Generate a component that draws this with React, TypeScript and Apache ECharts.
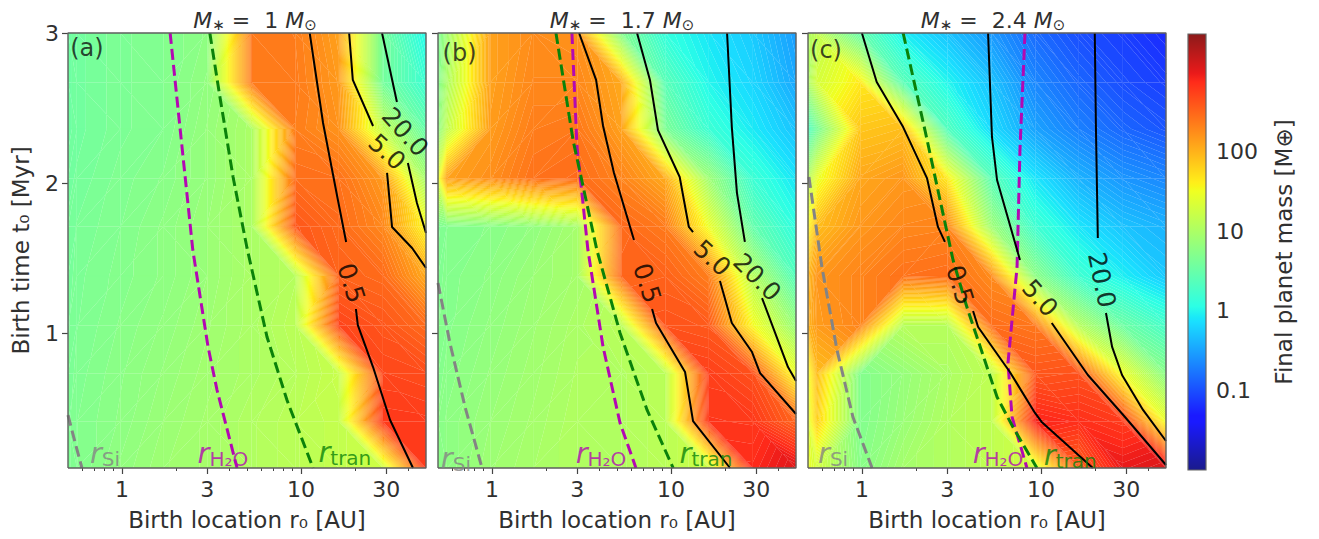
import React, { useEffect, useRef } from "react";
import * as echarts from "echarts";

const FONT = "DejaVu Sans";
const INK = "#303030";
const rNodes = [0.5, 0.56, 0.98, 1.7, 3.0, 5.3, 9.3, 16.3, 28.7, 50];
const tNodes = [3.0, 2.67, 2.36, 2.03, 1.71, 1.38, 1.05, 0.73, 0.41, 0.1];
const xMajor = [1, 3, 10, 30];
const xMinor = [0.6, 0.7, 0.8, 0.9, 2, 4, 5, 6, 7, 8, 9, 20, 40];
const yMajor = [1, 2, 3];
const barTicks = [0.1, 1, 10, 100];
const massMin = 0.01;
const massMax = 3040;

const massA = [
  [3.5, 3.8, 4.5, 5, 6, 240, 220, 130, 4, 1],
  [3.5, 3.8, 4.5, 5, 6.5, 240, 230, 145, 4, 1.5],
  [3.5, 3.8, 4.5, 5, 7, 10, 220, 160, 15, 3],
  [3.8, 4, 4.8, 5.5, 7, 10, 280, 260, 145, 9],
  [4, 4.3, 5, 6, 7.5, 10, 400, 290, 190, 35],
  [4, 4.5, 5.2, 6, 7.5, 10, 12, 330, 290, 115],
  [4.2, 4.6, 5.5, 6.5, 8, 10, 13, 520, 400, 290],
  [4.3, 4.8, 5.8, 7, 8.5, 10, 12, 16, 500, 460],
  [4.5, 5, 6, 7.5, 9, 11, 13, 15, 620, 600],
  [4.5, 5, 6.5, 8, 9, 11, 13, 15, 18, 620],
];
const massB = [
  [4.5, 8, 130, 175, 160, 5, 1.3, 0.8, 0.55, 0.3],
  [5, 10, 130, 190, 190, 115, 2.5, 1, 0.65, 0.35],
  [6, 14, 140, 220, 240, 130, 4.5, 1.5, 0.85, 0.5],
  [25, 130, 170, 260, 290, 200, 115, 8, 1.5, 0.8],
  [4.5, 5, 5.5, 6.5, 9, 300, 230, 30, 3, 1.2],
  [4.8, 5.2, 6, 7.5, 9, 310, 330, 220, 12, 2.2],
  [5, 5.3, 6.5, 8, 10, 13, 420, 380, 35, 7],
  [5.2, 5.6, 7, 8.5, 10.5, 11, 13, 560, 430, 30],
  [5.5, 6, 7.5, 9, 11, 11, 13, 640, 620, 320],
  [5.5, 6, 8, 9.5, 11, 11, 13, 18, 760, 1150],
];
const massC = [
  [11, 14, 3, 0.9, 0.5, 0.28, 0.15, 0.1, 0.08, 0.06],
  [10, 20, 45, 2.5, 1, 0.5, 0.22, 0.14, 0.1, 0.08],
  [2, 4, 75, 85, 2.2, 0.7, 0.32, 0.2, 0.14, 0.11],
  [12, 28, 120, 150, 45, 2.5, 0.8, 0.4, 0.27, 0.22],
  [35, 85, 150, 190, 200, 8, 1.6, 0.8, 0.5, 0.4],
  [90, 150, 200, 260, 280, 180, 6, 1.6, 0.9, 0.55],
  [100, 140, 200, 12, 12, 280, 240, 12, 3.5, 1.8],
  [30, 85, 5, 7, 10, 14, 400, 430, 30, 5.5],
  [25, 65, 5, 7.5, 11, 14, 850, 720, 600, 30],
  [30, 20, 5.5, 9, 11, 14, 20, 330, 1000, 1200],
];

const contoursA = [
  [[11.2, 3], [13.3, 2.4], [16.1, 1.887], [17.9, 1.607]],
  [[20.3, 1.16], [20.8, 1.053], [25.3, 0.773], [31.5, 0.42], [42.3, 0.1]],
  [[18.6, 3], [19.5, 2.687], [25.3, 2.38]],
  [[30.3, 2.067], [32.3, 1.707], [41.8, 1.567], [50, 1.433]],
  [[28.4, 3], [34.4, 2.54]],
  [[39.6, 2.133], [44.5, 1.867], [50, 1.667]],
];
const contoursB = [
  [[3.07, 3], [3.82, 2.687], [4.18, 2.38], [4.81, 2.067], [6.22, 1.62]],
  [[7.85, 1.16], [8.26, 1.067], [12, 0.74], [13.3, 0.413], [21.4, 0.1]],
  [[6.47, 3], [7.64, 2.687], [8.47, 2.353], [11.2, 2.04], [12.6, 1.707], [13.3, 1.673]],
  [[18.8, 1.347], [21.9, 1.067], [28.4, 0.873], [31.5, 0.733], [50, 0.46]],
  [[20.6, 3], [21.9, 2.373], [23.4, 1.933], [25.9, 1.607]],
  [[32.3, 1.233], [45.1, 0.773], [50, 0.68]],
];
const contoursC = [
  [[1.0, 3], [1.21, 2.673], [1.7, 2.373], [2.31, 2.033], [2.66, 1.707], [2.91, 1.607]],
  [[4.18, 1.147], [4.46, 1.04], [6.71, 0.74], [9.27, 0.467], [10.1, 0.407], [19.5, 0.1]],
  [[5.07, 3], [5.33, 2.307], [5.69, 2.02], [7.64, 1.487]],
  [[11.5, 1.067], [18.3, 0.72], [29.5, 0.44], [50, 0.12]],
  [[20, 3], [20.3, 2.373], [20.8, 1.633]],
  [[23.1, 1.133], [25, 0.907], [28.4, 0.72], [37.2, 0.487], [50, 0.28]],
];

const contourLabelsA = [
  { text: "0.5", r: 19.1, t: 1.333, rotate: -72 },
  { text: "5.0", r: 30.3, t: 2.207, rotate: -42 },
  { text: "20.0", r: 38.2, t: 2.34, rotate: -48 },
];
const contourLabelsB = [
  { text: "0.5", r: 7.36, t: 1.333, rotate: -72 },
  { text: "5.0", r: 17, t: 1.5, rotate: -42 },
  { text: "20.0", r: 30.3, t: 1.373, rotate: -45 },
];
const contourLabelsC = [
  { text: "0.5", r: 3.53, t: 1.32, rotate: -72 },
  { text: "5.0", r: 9.89, t: 1.233, rotate: -48 },
  { text: "20.0", r: 21.9, t: 1.353, rotate: -78 },
];

const siliconA = [[0.5, 0.453], [0.547, 0.273], [0.598, 0.1]];
const siliconB = [[0.5, 1.333], [0.583, 0.933], [0.708, 0.507], [0.881, 0.1]];
const siliconC = [[0.506, 2.04], [0.598, 1.44], [0.726, 0.887], [0.891, 0.44], [1.14, 0.1]];
const waterA = [[1.86, 3], [2.11, 2.373], [2.49, 1.553], [3.03, 0.907], [3.4, 0.62], [4.4, 0.1]];
const waterB = [[2.8, 3], [2.99, 2.24], [3.44, 1.553], [4.18, 0.907], [5.2, 0.4], [6.38, 0.1]];
const waterC = [[8.15, 3], [7.64, 2.22], [7.36, 1.44], [6.55, 0.8], [6.9, 0.44], [8.36, 0.1]];
const tranA = [[3.1, 3], [3.53, 2.573], [4.18, 2.04], [5, 1.567], [6.47, 0.973], [8.36, 0.553], [11.7, 0.1]];
const tranB = [[2.28, 3], [2.84, 2.287], [3.86, 1.553], [5.2, 1.0], [7.36, 0.487], [10.3, 0.1]];
const tranC = [[1.7, 3], [2.25, 2.353], [3.23, 1.487], [3.86, 1.173], [5.69, 0.573], [6.98, 0.373], [9.5, 0.1]];

const titleTexts = ["1", "1.7", "2.4"];
const panelTags = ["(a)", "(b)", "(c)"];
const tagPlace = [[0.638, 2.9], [0.66, 2.87], [0.63, 2.89]];
const siPlace = [[0.805, 0.2], [0.63, 0.17], [0.69, 0.2]];
const waterPlace = [[3.67, 0.2], [4.07, 0.2], [5.76, 0.2]];
const tranPlace = [[17.6, 0.207], [15.7, 0.2], [14.6, 0.187]];

const redCurve = [[0, 0], [0.35, 0], [0.66, 1], [0.89, 1], [1, 0.5]];
const greenCurve = [[0, 0], [0.125, 0], [0.375, 1], [0.64, 1], [0.91, 0], [1, 0]];
const blueCurve = [[0, 0.5], [0.11, 1], [0.34, 1], [0.65, 0], [1, 0]];

function channel(curve: number[][], f: number) {
  for (let i = 1; i < curve.length; i++) {
    if (f <= curve[i][0]) {
      const [a, va] = curve[i - 1];
      const [b, vb] = curve[i];
      return va + ((f - a) / (b - a)) * (vb - va);
    }
  }
  return curve[curve.length - 1][1];
}
const LOG_MIN = Math.log10(massMin);
const LOG_SPAN = Math.log10(massMax) - LOG_MIN;
function shade(logMass: number) {
  const f = Math.max(0, Math.min(1, (logMass - LOG_MIN) / LOG_SPAN));
  const to255 = (v: number) => Math.round(255 * (0.9 * v + 0.1));
  return `rgb(${to255(channel(redCurve, f))},${to255(channel(greenCurve, f))},${to255(channel(blueCurve, f))})`;
}

type V = [number, number, number];
function clip(poly: V[], level: number, keepAbove: boolean): V[] {
  const out: V[] = [];
  for (let i = 0; i < poly.length; i++) {
    const a = poly[i];
    const b = poly[(i + 1) % poly.length];
    const ina = keepAbove ? a[2] >= level : a[2] <= level;
    const inb = keepAbove ? b[2] >= level : b[2] <= level;
    if (ina) out.push(a);
    if (ina !== inb) {
      const k = (level - a[2]) / (b[2] - a[2]);
      out.push([a[0] + k * (b[0] - a[0]), a[1] + k * (b[1] - a[1]), level]);
    }
  }
  return out;
}
const BAND = 0.035;
function bands(tri: V[], children: any[]) {
  const vals = tri.map((p) => p[2]);
  const lo = Math.floor(Math.min(...vals) / BAND);
  const hi = Math.floor(Math.max(...vals) / BAND);
  for (let k = lo; k <= hi; k++) {
    const a = k * BAND;
    const b = (k + 1) * BAND;
    const piece = clip(clip(tri, a, true), b, false);
    if (piece.length < 3) continue;
    const col = shade((a + b) / 2);
    children.push({
      type: "polygon",
      shape: { points: piece.map((p) => [p[0], p[1]]) },
      style: { fill: col, stroke: col, lineWidth: 0.12 },
      silent: true,
    });
  }
}

function quadItems(mass: number[][]) {
  const items: number[][] = [];
  for (let i = 0; i + 1 < tNodes.length; i++) {
    for (let j = 0; j + 1 < rNodes.length; j++) {
      items.push([rNodes[j], rNodes[j + 1], tNodes[i + 1], tNodes[i], mass[i + 1][j], mass[i + 1][j + 1], mass[i][j], mass[i][j + 1]]);
    }
  }
  return items;
}

function renderField(_: any, api: any) {
  const r0 = api.value(0), r1 = api.value(1), t0 = api.value(2), t1 = api.value(3);
  const node = (r: number, t: number, m: number): V => {
    const p = api.coord([r, t]);
    return [p[0], p[1], Math.log10(m)];
  };
  const bl = node(r0, t0, api.value(4));
  const br = node(r1, t0, api.value(5));
  const tl = node(r0, t1, api.value(6));
  const tr = node(r1, t1, api.value(7));
  const children: any[] = [];
  if (Math.abs(tl[2] - br[2]) <= Math.abs(bl[2] - tr[2])) {
    bands([tl, tr, br], children);
    bands([tl, bl, br], children);
  } else {
    bands([bl, tl, tr], children);
    bands([bl, br, tr], children);
  }
  return { type: "group", children };
}

function renderBar(_: any, api: any) {
  const a = api.coord([0, api.value(1)]);
  const b = api.coord([1, api.value(2)]);
  const points = Array.from(
    new Set([...redCurve, ...greenCurve, ...blueCurve].map((p) => p[0]))
  ).sort((x, y) => x - y);
  const stops = points.map((f) => ({ offset: 1 - f, color: shade(LOG_MIN + f * LOG_SPAN) })).reverse();
  return {
    type: "rect",
    shape: { x: a[0], y: b[1], width: b[0] - a[0], height: a[1] - b[1] },
    style: {
      fill: new echarts.graphic.LinearGradient(0, 0, 0, 1, stops),
      stroke: "#666666",
      lineWidth: 1.2,
    },
  };
}

const panelLefts = [68, 438, 808];
const TEXT = { fontFamily: FONT, color: INK };

function buildOption() {
  const grids: any[] = panelLefts.map((left) => ({ left, top: 33, width: 358, height: 435 }));
  grids.push({ left: 1188, top: 34, width: 18, height: 436 });
  const xAxis: any[] = [];
  const yAxis: any[] = [];
  const series: any[] = [];
  const masses = [massA, massB, massC];
  const contourSets = [contoursA, contoursB, contoursC];
  const contourLabelSets = [contourLabelsA, contourLabelsB, contourLabelsC];
  const silicon = [siliconA, siliconB, siliconC];
  const water = [waterA, waterB, waterC];
  const tran = [tranA, tranB, tranC];

  panelLefts.forEach((_, p) => {
    const mainX = xAxis.length;
    xAxis.push({
      type: "log", gridIndex: p, min: 0.5, max: 50, position: "bottom",
      name: "Birth location r₀ [AU]", nameLocation: "middle", nameGap: 40,
      nameTextStyle: { ...TEXT, fontSize: 23 },
      axisLine: { show: false }, splitLine: { show: false }, minorTick: { show: false },
      axisTick: { show: true, length: 6, lineStyle: { color: "#444", width: 1.2 }, customValues: xMajor },
      axisLabel: { ...TEXT, fontSize: 22, margin: 10, customValues: xMajor, formatter: (v: number) => String(v) },
    });
    xAxis.push({
      type: "log", gridIndex: p, min: 0.5, max: 50, position: "bottom",
      axisLine: { show: false }, splitLine: { show: false }, axisLabel: { show: false },
      axisTick: { show: true, length: 3, lineStyle: { color: "#444", width: 1 }, customValues: xMinor },
    });
    const yIdx = yAxis.length;
    yAxis.push({
      type: "value", gridIndex: p, min: 0.1, max: 3,
      name: p === 0 ? "Birth time t₀ [Myr]" : "", nameLocation: "middle", nameGap: 36,
      nameTextStyle: { ...TEXT, fontSize: 23 },
      axisLine: { show: false }, splitLine: { show: false },
      axisTick: { show: true, length: 6, lineStyle: { color: "#444", width: 1.2 }, customValues: yMajor },
      axisLabel: { show: p === 0, ...TEXT, fontSize: 22, margin: 9, customValues: yMajor, formatter: (v: number) => String(v) },
    });

    series.push({
      type: "custom", xAxisIndex: mainX, yAxisIndex: yIdx, z: 1, silent: true,
      renderItem: renderField, encode: { x: [0, 1], y: [2, 3] }, data: quadItems(masses[p]),
    });
    contourSets[p].forEach((seg) => {
      series.push({
        type: "line", xAxisIndex: mainX, yAxisIndex: yIdx, z: 5, silent: true, symbol: "none",
        lineStyle: { color: "#000", width: 2 }, data: seg,
      });
    });
    const dashes: [number[][], string][] = [
      [silicon[p], "#848484"], [water[p], "#b308b3"], [tran[p], "#0a820a"],
    ];
    dashes.forEach(([d, color]) => {
      series.push({
        type: "line", xAxisIndex: mainX, yAxisIndex: yIdx, z: 4, silent: true, symbol: "none",
        lineStyle: { color, width: 3, type: [11, 5] }, data: d,
      });
    });
    series.push({
      type: "line", xAxisIndex: mainX, yAxisIndex: yIdx, z: 6, silent: true, symbol: "none", clip: false,
      lineStyle: { color: "#5f5f5f", width: 1.4 },
      data: [[0.5, 0.1], [50, 0.1], [50, 3], [0.5, 3], [0.5, 0.1]],
    });
    const lab = (rt: number[], formatter: string, color: string, rotate = 0, fontSize = 22, extra: any = {}) => ({
      value: rt,
      label: { show: true, position: "inside", align: "center", verticalAlign: "middle", formatter, color, rotate, fontSize, fontFamily: FONT, ...extra },
    });
    const rich = (color: string) => ({
      rich: {
        r: { fontSize: 29, fontStyle: "italic", color, fontFamily: FONT },
        s: { fontSize: 20, color, fontFamily: FONT, padding: [12, 0, 0, 0] },
      },
    });
    series.push({
      type: "scatter", xAxisIndex: mainX, yAxisIndex: yIdx, z: 7, silent: true, symbolSize: 1,
      itemStyle: { color: "rgba(0,0,0,0)" },
      data: [
        ...contourLabelSets[p].map((l) => lab([l.r, l.t], l.text, "#000", l.rotate, 25)),
        lab(tagPlace[p], panelTags[p], "#111", 0, 24),
        lab(siPlace[p], "{r|r}{s|Si}", "#848484", 0, 20, rich("#848484")),
        lab(waterPlace[p], "{r|r}{s|H₂O}", "#b308b3", 0, 20, rich("#b308b3")),
        lab(tranPlace[p], "{r|r}{s|tran}", "#0a820a", 0, 20, rich("#0a820a")),
      ],
    });
  });

  const barX = xAxis.length;
  xAxis.push({ type: "value", gridIndex: 3, min: 0, max: 1, show: false });
  const barY = yAxis.length;
  yAxis.push({
    type: "log", gridIndex: 3, min: massMin, max: massMax, position: "right",
    name: "Final planet mass [M⊕]", nameLocation: "middle", nameGap: 66, nameRotate: 90,
    nameTextStyle: { ...TEXT, fontSize: 23 },
    axisLine: { show: false }, splitLine: { show: false }, minorTick: { show: false },
    axisTick: { show: true, length: 6, lineStyle: { color: "#444", width: 1.2 }, customValues: barTicks },
    axisLabel: { ...TEXT, fontSize: 22, margin: 10, customValues: barTicks, formatter: (v: number) => String(v) },
  });
  series.push({
    type: "custom", xAxisIndex: barX, yAxisIndex: barY, z: 2, silent: true,
    renderItem: renderBar, encode: { y: [1, 2] }, data: [[0, massMin, massMax]], clip: false,
  });

  const titles = titleTexts.map((v, i) => ({
    text: `{m|M}{s|∗}{n| =  ${v} }{m|M}{s|⊙}`,
    left: [250, 617, 988][i], top: 4, textAlign: "center",
    textStyle: {
      fontWeight: "normal",
      rich: {
        m: { fontSize: 22, fontStyle: "italic", fontWeight: "normal", color: INK, fontFamily: FONT },
        s: { fontSize: 15, fontWeight: "normal", color: INK, fontFamily: FONT, padding: [8, 0, 0, 0] },
        n: { fontSize: 22, fontWeight: "normal", color: INK, fontFamily: FONT },
      },
    },
  }));

  return { animation: false, backgroundColor: "#ffffff", title: titles, grid: grids, xAxis, yAxis, series, tooltip: { show: false } };
}

export default function App() {
  const ref = useRef<HTMLDivElement>(null);
  useEffect(() => {
    document.body.style.margin = "0";
    const chart = echarts.init(ref.current as HTMLDivElement, undefined, { renderer: "svg", width: 1319, height: 539 });
    chart.setOption(buildOption() as any);
    return () => chart.dispose();
  }, []);
  return <div ref={ref} style={{ width: 1319, height: 539 }} />;
}
